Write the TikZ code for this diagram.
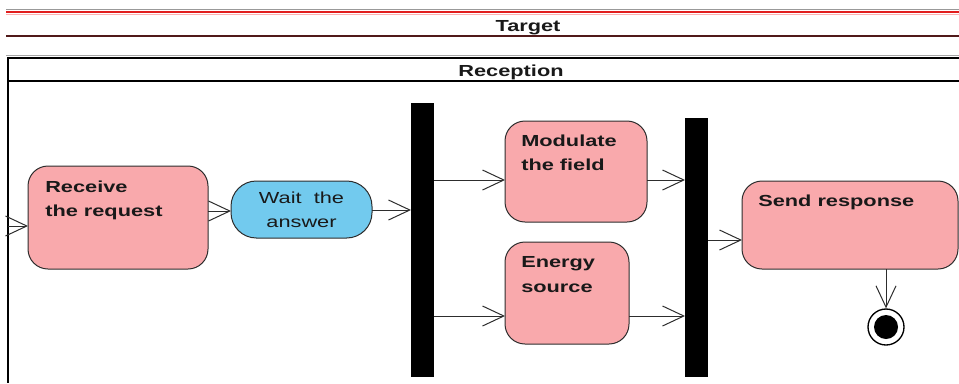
\documentclass[tikz,border=0pt]{standalone}
\usepackage{fontspec}
\setmainfont{Liberation Sans}[FakeStretch=1.36]
\usetikzlibrary{arrows.meta}
\definecolor{pinkfill}{RGB}{249,169,172}
\definecolor{bluefill}{RGB}{114,202,238}
\definecolor{edgec}{RGB}{45,45,45}
\definecolor{lanered}{RGB}{225,30,30}
\definecolor{lanedark}{RGB}{80,25,25}
\begin{document}
\begin{tikzpicture}[x=0.75pt,y=-0.75pt,
  act/.style={draw=edgec, line width=0.75pt, fill=pinkfill, rounded corners=15pt, inner sep=0pt, outer sep=0pt},
  waitbox/.style={draw=edgec, line width=0.75pt, fill=bluefill, rounded corners=19pt, inner sep=0pt, outer sep=0pt, align=center,
    font=\fontsize{12}{18.2}\selectfont, text=black!90},
  bar/.style={fill=black, draw=none, inner sep=0pt, outer sep=0pt, minimum width=17.25pt},
  txt/.style={inner sep=0pt, anchor=north west, align=left, font=\fontsize{12}{18.4}\selectfont\bfseries, text=black!90},
  lanetxt/.style={inner sep=0pt, anchor=base, font=\fontsize{12}{14}\selectfont\bfseries, text=black!90},
  arr/.style={draw=edgec, line width=0.75pt, -{Straight Barb[length=16pt, width=15pt, line width=0.75pt]}}
]
\useasboundingbox (0,0) rectangle (959,383);
% swimlane lines
\draw[black!40, line width=0.75pt] (6,9) -- (959,9);
\draw[lanered, line width=1.8pt] (6,12) -- (959,12);
\draw[red!30, line width=0.6pt] (6,14) -- (959,14);
\node[lanetxt] (target) at (528,31) {Target};
\draw[lanedark, line width=2.2pt] (6,36) -- (959,36);
\draw[black!35, line width=0.75pt] (6,55) -- (959,55);
\draw[black, line width=1.5pt] (8,57.5) -- (959,57.5);
\node[lanetxt] (reception) at (511,76) {Reception};
\draw[black, line width=1.5pt] (8,81) -- (959,81);
\draw[black, line width=1.2pt] (8,57) -- (8,383);

% actions
\node[act, minimum width=135pt, minimum height=77.25pt] (recv) at (118,217.5) {};
\node[txt] (recvt) at (45,180.5) {Receive\\the request};
\node[waitbox, minimum width=105.75pt, minimum height=42.75pt] (wait) at (301.5,209.5) {Wait\ \ the\\answer};
\node[bar, minimum height=205.5pt] (bar1) at (422.5,240) {};
\node[act, minimum width=106.5pt, minimum height=75.75pt] (mod) at (576,171.5) {};
\node[txt] (modt) at (521,134.5) {Modulate\\the field};
\node[act, minimum width=93pt, minimum height=76.5pt] (energy) at (567,293) {};
\node[txt] (energyt) at (521,256.5) {Energy\\source};
\node[bar, minimum height=194.25pt] (bar2) at (696.5,247.5) {};
\node[act, minimum width=162pt, minimum height=66pt] (send) at (850,225) {};
\node[txt] (sendt) at (758,194.5) {Send response};
\node[circle, draw=black, line width=1pt, fill=white, minimum size=27pt, inner sep=0pt] (final) at (886,327) {};
\fill[black] (final.center) circle (9pt);

% connectors
\coordinate (start) at (8,226);
\draw[arr] (start) -- (start -| recv.west);
\draw[arr] (recv.east |- 0,211) -- (wait.west |- 0,211);
\draw[arr] (wait.east |- 0,210) -- (bar1.west |- 0,210);
\draw[arr] (bar1.east |- 0,180) -- (mod.west |- 0,180);
\draw[arr] (bar1.east |- 0,316) -- (energy.west |- 0,316);
\draw[arr] (mod.east |- 0,180) -- (bar2.west |- 0,180);
\draw[arr] (energy.east |- 0,316) -- (bar2.west |- 0,316);
\draw[arr] (bar2.east |- 0,240) -- (send.west |- 0,240);
\draw[arr] (final |- send.south) -- (final.north);
\end{tikzpicture}
\end{document}
